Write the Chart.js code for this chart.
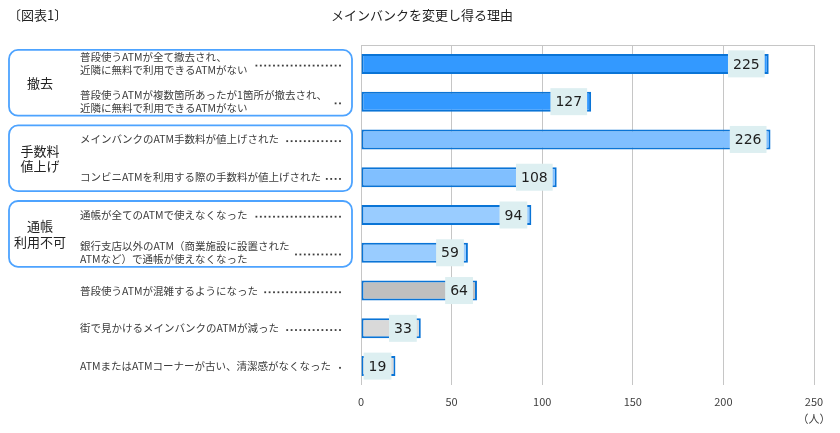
<!DOCTYPE html>
<html lang="ja">
  <head>
    <meta charset="UTF-8" />
    <title>メインバンクを変更し得る理由</title>
    <style>
      html, body {
        margin: 0;
        padding: 0;
        background: #fff;
      }
      #wrap {
        width: 840px;
        height: 433px;
      }
    </style>
  </head>
  <body>
    <div id="wrap"><canvas id="myChart" width="840" height="433"></canvas></div>
    <script src="https://cdn.jsdelivr.net/npm/chart.js@4"></script>
    <script>
      const chartTitle = "メインバンクを変更し得る理由";
      const figureLabel = "〔図表1〕";
      const unitLabel = "（人）";

      // one entry per bar, top to bottom (lines split where the source wraps)
      const categories = [
        ["普段使うATMが全て撤去され、", "近隣に無料で利用できるATMがない"],
        ["普段使うATMが複数箇所あったが1箇所が撤去され、", "近隣に無料で利用できるATMがない"],
        ["メインバンクのATM手数料が値上げされた"],
        ["コンビニATMを利用する際の手数料が値上げされた"],
        ["通帳が全てのATMで使えなくなった"],
        ["銀行支店以外のATM（商業施設に設置された", "ATMなど）で通帳が使えなくなった"],
        ["普段使うATMが混雑するようになった"],
        ["街で見かけるメインバンクのATMが減った"],
        ["ATMまたはATMコーナーが古い、清潔感がなくなった"],
      ];
      const values = [225, 127, 226, 108, 94, 59, 64, 33, 19];

      // groups of categories (first index, last index)
      const groupNames = [["撤去"], ["手数料", "値上げ"], ["通帳", "利用不可"]];
      const groupFrom = [0, 2, 4];
      const groupTo = [1, 3, 5];

      const xTicks = [0, 50, 100, 150, 200, 250];

      const barColors = [
        "#3399ff", "#3399ff",
        "#80bfff", "#80bfff",
        "#99ccff", "#99ccff",
        "#bfbfbf",
        "#d9d9d9", "#d9d9d9",
      ];

      const jp = '"Noto Sans CJK JP", "Noto Sans", sans-serif';

      // left side texts, dotted leaders and group boxes
      const sideLabels = {
        id: "sideLabels",
        afterDraw(chart) {
          const ctx = chart.ctx;
          const y = chart.scales.y;
          ctx.save();

          // title + figure number
          ctx.fillStyle = "#222";
          ctx.font = "13px " + jp;
          ctx.textBaseline = "middle";
          ctx.textAlign = "left";
          ctx.fillText(figureLabel, 8, 15);
          ctx.textAlign = "center";
          ctx.fillText(chartTitle, 422, 15);

          // top border line of plot
          const a = chart.chartArea;
          ctx.strokeStyle = "#c6c6c6";
          ctx.lineWidth = 1;
          ctx.beginPath();
          ctx.moveTo(a.left, a.top + 0.5);
          ctx.lineTo(a.right, a.top + 0.5);
          ctx.stroke();

          // group boxes
          ctx.strokeStyle = "#4da3ff";
          ctx.lineWidth = 1.8;
          groupNames.forEach((name, g) => {
            const top = y.getPixelForValue(groupFrom[g]) - 14;
            const bot = y.getPixelForValue(groupTo[g]) + 14;
            ctx.beginPath();
            ctx.roundRect(9, top, 343, bot - top, 9);
            ctx.stroke();
            ctx.fillStyle = "#222";
            ctx.font = "13px " + jp;
            ctx.textAlign = "center";
            const mid = (top + bot) / 2;
            const lh = 15.5;
            name.forEach((line, k) => {
              ctx.fillText(line, 40, mid + (k - (name.length - 1) / 2) * lh);
            });
          });

          // item labels and leaders
          ctx.font = "10.5px " + jp;
          ctx.textAlign = "left";
          categories.forEach((lines, i) => {
            const cy = y.getPixelForValue(i);
            const lh = 12.8;
            let maxW = 0;
            ctx.fillStyle = "#3c3c3c";
            lines.forEach((line, k) => {
              ctx.fillText(line, 80, cy + (k - (lines.length - 1) / 2) * lh);
              maxW = Math.max(maxW, ctx.measureText(line).width);
            });
            const start = 80 + maxW + 5;
            for (let dx = 340; dx >= start; dx -= 4.4) {
              ctx.fillRect(dx - 0.9, cy + 0.8, 1.8, 1.8);
            }
          });
          ctx.restore();
        },
      };

      // value boxes at the end of each bar
      const valueBoxes = {
        id: "valueBoxes",
        afterDatasetsDraw(chart) {
          const ctx = chart.ctx;
          const meta = chart.getDatasetMeta(0);
          ctx.save();
          ctx.font = "14px 'DejaVu Sans', sans-serif";
          ctx.textAlign = "center";
          ctx.textBaseline = "middle";
          meta.data.forEach((bar, i) => {
            const txt = String(values[i]);
            const w = ctx.measureText(txt).width + 10;
            const h = 27;
            const right = bar.x - 4;
            ctx.fillStyle = "#ddeff1";
            ctx.fillRect(right - w, bar.y - h / 2, w, h);
            ctx.fillStyle = "#1e1e1e";
            ctx.fillText(txt, right - w / 2, bar.y + 1);
          });
          ctx.restore();
        },
      };

      const ctx = document.getElementById("myChart").getContext("2d");
      new Chart(ctx, {
        type: "bar",
        data: {
          labels: categories,
          datasets: [
            {
              data: values,
              backgroundColor: barColors,
              borderColor: "#0a74d6",
              borderWidth: 2,
              borderSkipped: false,
              categoryPercentage: 1,
              barPercentage: 0.53,
            },
          ],
        },
        options: {
          indexAxis: "y",
          responsive: false,
          animation: false,
          layout: {
            padding: { left: 361, right: 26, top: 45, bottom: 0 },
          },
          scales: {
            y: {
              display: false,
            },
            x: {
              min: 0,
              max: 250,
              afterBuildTicks: (axis) => {
                axis.ticks = xTicks.map((v) => ({ value: v }));
              },
              afterFit: (axis) => {
                axis.height = 48;
              },
              border: { display: false },
              grid: {
                color: "#c6c6c6",
                drawTicks: false,
              },
              ticks: {
                padding: 9,
                color: "#404040",
                font: { size: 11, family: jp, lineHeight: 1.5 },
                callback: (v) => (v === 250 ? [String(v), unitLabel] : String(v)),
              },
            },
          },
          plugins: {
            legend: { display: false },
            tooltip: { enabled: false },
          },
        },
        plugins: [valueBoxes, sideLabels],
      });
    </script>
  </body>
</html>
